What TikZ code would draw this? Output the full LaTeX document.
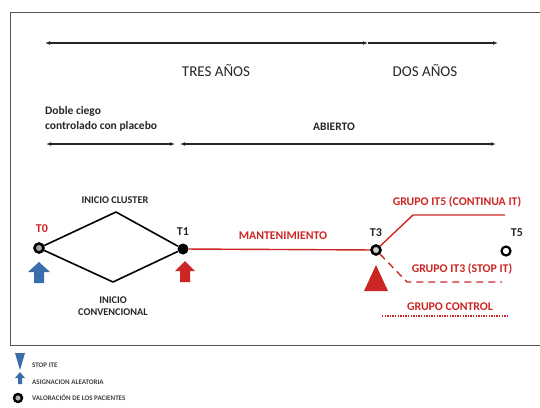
\documentclass[tikz,border=0pt]{standalone}
\usepackage{fontspec}
\setmainfont{Carlito}
\usepackage{xcolor}
\definecolor{Col1}{RGB}{204,38,36}
\definecolor{Col2}{RGB}{58,110,170}
\definecolor{Col3}{RGB}{85,85,85}
\usepackage{tikz}
\usetikzlibrary{arrows.meta}
\tikzstyle{Box}=[draw=Col3,line width=1pt]
\tikzstyle{Span}=[draw=black!85,line width=1.2pt]
\tikzstyle{Title}=[font=\fontsize{15}{17}\selectfont,inner sep=0pt,text=black!85]
\tikzstyle{Phase}=[font=\bfseries\fontsize{11.5}{15}\selectfont,inner sep=0pt,text=black!85]
\tikzstyle{Label}=[font=\bfseries\fontsize{10.3}{12}\selectfont,inner sep=0pt,text=black!85]
\tikzstyle{RedLabel}=[font=\bfseries\fontsize{11.8}{13}\selectfont,inner sep=0pt,text=Col1]
\tikzstyle{Time}=[font=\bfseries\fontsize{12}{13}\selectfont,inner sep=0pt,text=black!85]
\tikzstyle{Legend}=[font=\bfseries\fontsize{7}{8}\selectfont,inner sep=0pt,text=black!75,anchor=west]
\tikzstyle{Dot}=[circle,fill=black,inner sep=0pt,minimum size=11pt]
\tikzstyle{Ring}=[circle,draw=black,line width=2.6pt,fill=black!35,inner sep=0pt,minimum size=9pt]
\tikzstyle{Edge}=[draw=black,line width=1.6pt]
\tikzstyle{RedEdge}=[draw=Col1,line width=1.4pt]

\begin{document}
\begin{tikzpicture}[x=1pt,y=-1pt]
    \useasboundingbox(0,0)rectangle(540,407);
    \draw[Box](10,12)rectangle(548,345);
    % durations
    \coordinate(s0)at(45,43);
    \coordinate(s1)at(368,43);
    \coordinate(s2)at(498,43);
    \draw[Span,{Latex[length=5pt]}-{Latex[length=5pt]}](s0)--(s1);
    \draw[Span,-{Latex[length=5pt]}](s1)--(s2);
    \node[Title](tres)at(216,71){TRES AÑOS};
    \node[Title](dos)at(425,71){DOS AÑOS};
    \node[Phase,anchor=west,align=left](doble)at(45,119){Doble ciego\\controlado con placebo};
    \node[Phase](abierto)at(334,127){ABIERTO};
    \coordinate(p0)at(46,144);
    \coordinate(p1)at(175,144);
    \coordinate(p2)at(180,144);
    \coordinate(p3)at(496,144);
    \draw[Span,{Latex[length=5pt]}-{Latex[length=5pt]}](p0)--(p1);
    \draw[Span,{Latex[length=5pt]}-{Latex[length=5pt]}](p2)--(p3);
    % schedule
    \node[Ring](t0)at(39,248){};
    \node[Dot](t1)at(183,249){};
    \node[Ring,fill=black!20](t3)at(376,250){};
    \node[Ring,fill=white,line width=2.2pt](t5)at(506,251){};
    \coordinate(up)at(116,212);
    \coordinate(down)at(113,282);
    \draw[Edge,line join=round](t0)--(up)--(t1);
    \draw[Edge,line join=round](t0)--(down)--(t1);
    \draw[RedEdge](t1)--(t3);
    \coordinate(k5)at(413,215);
    \coordinate(e5)at(505,215);
    \draw[RedEdge](t3)--(k5)--(e5);
    \coordinate(k3)at(407,282);
    \coordinate(e3)at(502,282);
    \draw[RedEdge,dash pattern=on 7pt off 5pt](t3)--(k3)--(e3);
    \coordinate(c0)at(382,316);
    \coordinate(c1)at(507,316);
    \draw[RedEdge,line width=1.6pt,dash pattern=on 1.4pt off 1.2pt](c0)--(c1);
    \node[RedLabel,font=\bfseries\fontsize{12}{13}\selectfont](l0)at(42,229){T0};
    \node[Time](l1)at(183,232){T1};
    \node[Time](l3)at(376,233){T3};
    \node[Time](l5)at(517,233){T5};
    \node[Label](cluster)at(115,200){INICIO CLUSTER};
    \node[Label,align=center](conv)at(113,306){INICIO\\CONVENCIONAL};
    \node[RedLabel](mant)at(283,236){MANTENIMIENTO};
    \node[RedLabel](it5)at(457,202){GRUPO IT5 (CONTINUA IT)};
    \node[RedLabel](it3)at(462,269){GRUPO IT3 (STOP IT)};
    \node[RedLabel](control)at(450,307){GRUPO CONTROL};
    % markers
    \fill[Col2](28,272)--(39,262)--(50,272)--(44,272)--(44,283)--(34,283)--(34,272)--cycle;
    \fill[Col1](175,271)--(185,261)--(195,271)--(190,271)--(190,282)--(180,282)--(180,271)--cycle;
    \fill[Col1](376,265)--(388,291)--(364,291)--cycle;
    % legend
    \fill[Col2](15,353)--(25,353)--(20,370)--cycle;
    \fill[Col2](15,378)--(20,372)--(25,378)--(22,378)--(22,384)--(18,384)--(18,378)--cycle;
    \node[Ring,minimum size=8pt,line width=2.4pt,fill=black!30](key)at(18,398){};
    \node[Legend](stop)at(32,365){STOP ITE};
    \node[Legend](asig)at(32,382){ASIGNACION ALEATORIA};
    \node[Legend](valor)at(32,398){VALORACIÓN DE LOS PACIENTES};
\end{tikzpicture}
\end{document}
